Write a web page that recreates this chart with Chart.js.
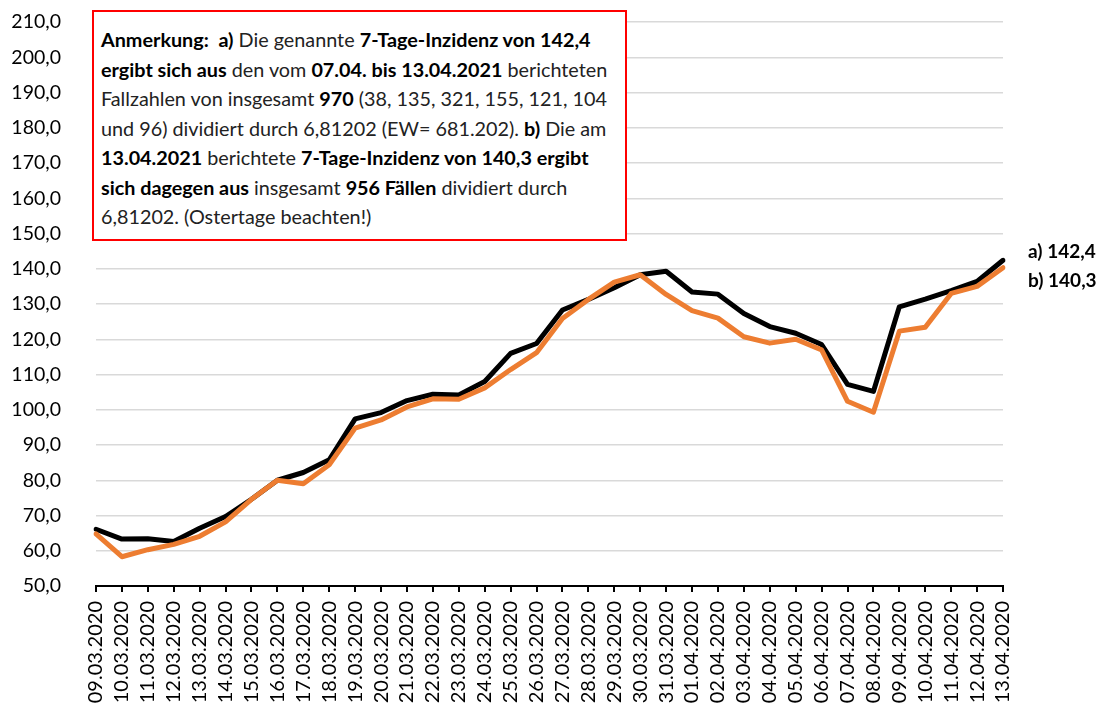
<!DOCTYPE html>
<html>
<head>
<meta charset="utf-8">
<script src="https://cdn.jsdelivr.net/npm/chart.js@4.4.1/dist/chart.umd.min.js"></script>
<style>
  body { margin: 0; background: #fff; }
  #wrap { position: relative; width: 1116px; height: 708px; overflow: hidden; }
  #note {
    position: absolute; left: 92px; top: 10px; width: 535px; height: 231px;
    border: 2px solid #ff0000; background: #fff;
    font-family: Lato, "Open Sans", sans-serif; font-size: 19.8px; line-height: 29.5px;
    color: #222; padding: 13px 0 0 7px; box-sizing: border-box; white-space: nowrap;
  }
  #note b { color: #000; }
</style>
</head>
<body>
<div id="wrap">
  <canvas id="chart" width="1116" height="708"></canvas>
  <div id="note">
    <b>Anmerkung:&nbsp; a)</b> Die genannte <b>7-Tage-Inzidenz von 142,4</b><br>
    <b>ergibt sich aus</b> den vom <b>07.04. bis 13.04.2021</b> berichteten<br>
    Fallzahlen von insgesamt <b>970</b> (38, 135, 321, 155, 121, 104<br>
    und 96) dividiert durch 6,81202 (EW= 681.202). <b>b)</b> Die am<br>
    <b>13.04.2021</b> berichtete <b>7-Tage-Inzidenz von 140,3 ergibt</b><br>
    <b>sich dagegen aus</b> insgesamt <b>956 Fällen</b> dividiert durch<br>
    6,81202. (Ostertage beachten!)
  </div>
</div>
<script>
// dates on the x axis
const labels = [
    "09.03.2020", "10.03.2020", "11.03.2020", "12.03.2020", "13.03.2020", "14.03.2020",
    "15.03.2020", "16.03.2020", "17.03.2020", "18.03.2020", "19.03.2020", "20.03.2020",
    "21.03.2020", "22.03.2020", "23.03.2020", "24.03.2020", "25.03.2020", "26.03.2020",
    "27.03.2020", "28.03.2020", "29.03.2020", "30.03.2020", "31.03.2020", "01.04.2020",
    "02.04.2020", "03.04.2020", "04.04.2020", "05.04.2020", "06.04.2020", "07.04.2020",
    "08.04.2020", "09.04.2020", "10.04.2020", "11.04.2020", "12.04.2020", "13.04.2020"
];
// a) incidence from the reported daily cases
const seriesA = [
    66.1, 63.3, 63.4, 62.6, 66.4, 69.7, 74.6, 80.0, 82.2, 85.8, 97.4, 99.2,
    102.6, 104.4, 104.2, 108.0, 116.0, 118.8, 128.3, 131.3, 134.6, 138.3, 139.3, 133.4,
    132.8, 127.3, 123.6, 121.7, 118.5, 107.2, 105.2, 129.2, 131.4, 133.8, 136.4, 142.4
];
// b) incidence as reported on the day
const seriesB = [
    64.8, 58.3, 60.3, 61.8, 64.1, 68.2, 74.6, 80.0, 79.0, 84.4, 94.8, 97.1,
    100.8, 103.1, 103.0, 106.2, 111.4, 116.2, 125.9, 131.3, 136.2, 138.3, 132.7, 128.1,
    126.0, 120.7, 118.9, 120.0, 117.0, 102.4, 99.3, 122.3, 123.4, 133.0, 135.0, 140.3
];
const endLabels = ["a) 142,4", "b) 140,3"];

const endLabelPlugin = {
    id: 'endLabels',
    afterDatasetsDraw(chart) {
        const ctx = chart.ctx;
        const area = chart.chartArea;
        const y = chart.scales.y;
        ctx.save();
        ctx.font = 'bold 19px Lato, "Open Sans", sans-serif';
        ctx.fillStyle = '#000';
        ctx.textBaseline = 'middle';
        ctx.textAlign = 'left';
        ctx.fillText(endLabels[0], area.right + 25, y.getPixelForValue(seriesA[seriesA.length - 1]) - 8);
        ctx.fillText(endLabels[1], area.right + 25, y.getPixelForValue(seriesB[seriesB.length - 1]) + 13);
        ctx.restore();
    }
};

Chart.defaults.font.family = 'Lato, "Open Sans", sans-serif';
Chart.defaults.color = '#000';

const ctx = document.getElementById('chart').getContext('2d');
const chart = new Chart(ctx, {
    type: 'line',
    data: {
        labels: labels,
        datasets: [{
            label: 'b) berichtet',
            data: seriesB,
            borderColor: '#ed7d31',
            borderWidth: 5,
            pointRadius: 0,
            tension: 0,
            borderJoinStyle: 'round',
            borderCapStyle: 'round'
        },
        {
            label: 'a) Fallzahlen',
            data: seriesA,
            borderColor: '#000000',
            borderWidth: 5,
            pointRadius: 0,
            tension: 0,
            borderJoinStyle: 'round',
            borderCapStyle: 'round'
        }]
    },
    options: {
        responsive: false,
        animation: false,
        layout: { padding: { top: 22, right: 113, left: 0, bottom: 0 } },
        plugins: { legend: { display: false }, tooltip: { enabled: false } },
        scales: {
            x: {
                offset: false,
                grid: { drawOnChartArea: false, color: '#000', lineWidth: 2, tickLength: 6 },
                border: { color: '#000', width: 2 },
                ticks: {
                    autoSkip: false, minRotation: 90, maxRotation: 90, padding: 9,
                    font: { size: 20 }, color: '#000'
                },
                afterFit: (scale) => { scale.height = 122; }
            },
            y: {
                min: 50,
                max: 210,
                grid: { color: '#d9d9d9', lineWidth: 1.5, drawTicks: false },
                border: { display: false },
                ticks: {
                    stepSize: 10, padding: 35, font: { size: 19.5 }, color: '#000',
                    callback: (v) => v.toFixed(1).replace('.', ',')
                },
                // fixed axis width; drop the tick padding that chart.js adds above/below
                afterFit: (scale) => {
                    scale.width = 96;
                    scale.paddingTop = 0;
                    scale.paddingBottom = 0;
                }
            }
        }
    },
    plugins: [endLabelPlugin]
});
</script>
</body>
</html>
